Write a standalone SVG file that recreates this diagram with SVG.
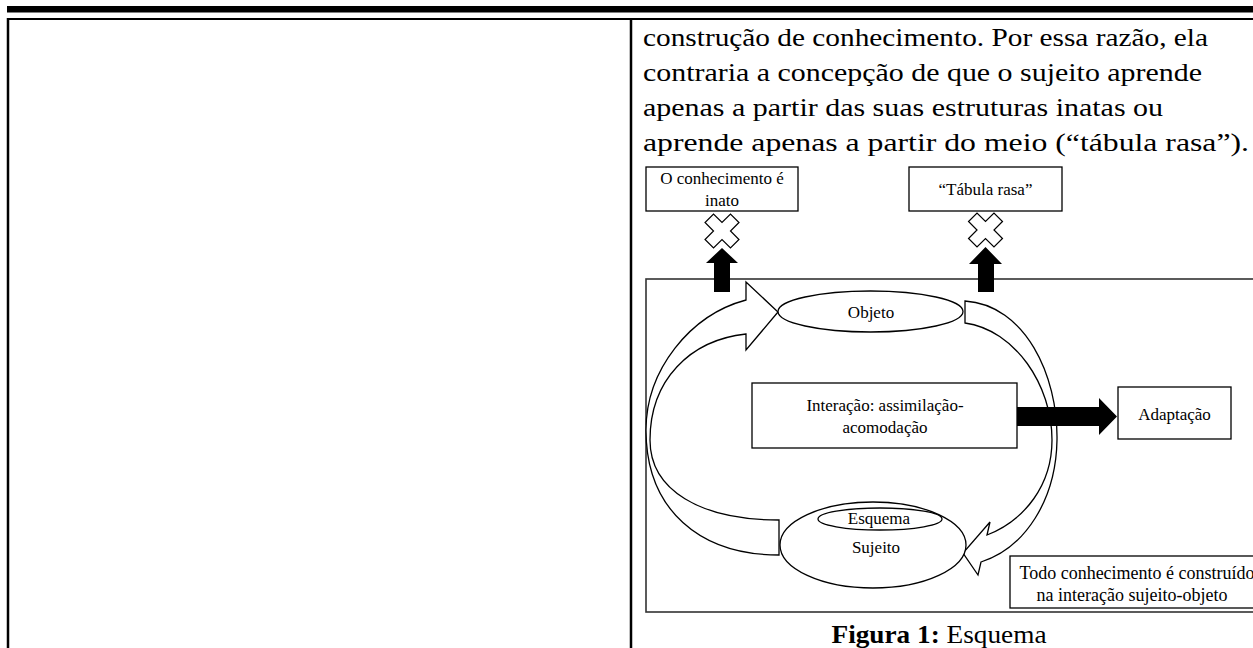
<svg xmlns="http://www.w3.org/2000/svg" width="1253" height="648" viewBox="0 0 1253 648">
<defs>
<style>
.body{font-family:"Liberation Serif","Times New Roman",serif;font-size:25px;fill:#000}
.cap{font-family:"Liberation Serif","Times New Roman",serif;font-size:25px;fill:#000;text-anchor:middle}
.lbl{font-family:"Liberation Serif","Times New Roman",serif;font-size:17px;fill:#000;text-anchor:middle}
.box{fill:#fff;stroke:#000;stroke-width:1.3}
.hollow{fill:#fff;stroke:#000;stroke-width:1.3;stroke-linejoin:miter}
.solid{fill:#000}
.xmark{fill:#fff;stroke:#000;stroke-width:1.2}
</style>
<polygon id="cross" points="6,-18 6,-6 18,-6 18,6 6,6 6,18 -6,18 -6,6 -18,6 -18,-6 -6,-6 -6,-18"/>
</defs>
<rect width="1253" height="648" fill="#fff"/>
<g id="page">
<rect x="7" y="6" width="1246" height="6.5" fill="#000"/>
<line x1="7" y1="19" x2="1253" y2="19" stroke="#000" stroke-width="2"/>
<line x1="8" y1="18" x2="8" y2="648" stroke="#000" stroke-width="2.5"/>
<line x1="631" y1="19" x2="631" y2="648" stroke="#000" stroke-width="2.5"/>
</g>
<g id="paragraph" class="body">
<text x="643" y="46" textLength="565" lengthAdjust="spacingAndGlyphs">construção de conhecimento. Por essa razão, ela</text>
<text x="643" y="81" textLength="559" lengthAdjust="spacingAndGlyphs">contraria a concepção de que o sujeito aprende</text>
<text x="643" y="116" textLength="520" lengthAdjust="spacingAndGlyphs">apenas a partir das suas estruturas inatas ou</text>
<text x="643" y="151" textLength="606" lengthAdjust="spacingAndGlyphs">aprende apenas a partir do meio (“tábula rasa”).</text>
</g>
<rect id="frame" x="646" y="279" width="620" height="333" fill="none" stroke="#333" stroke-width="1.6"/>
<g id="connectors">
<path id="arrow-sujeito-objeto" class="hollow" d="M779,555 C700,555 646,510 646,430 C646,370 690,315 746,300 L746,282 L778,312 L746,350 L746,334 C690,340 650,380 650,440 C650,490 700,520 779,520 Z"/>
<path id="arrow-objeto-sujeito" class="hollow" d="M965,301 C1025,305 1058,375 1057,440 C1056,500 1025,548 981,562 L978,575 L963,553 L990,522 L987,535 C1025,520 1052,485 1052,440 C1052,385 1015,330 965,323 Z"/>
<polygon id="arrow-inato" class="solid" points="714,292 714,263 706,263 722,248 738,263 730,263 730,292"/>
<polygon id="arrow-tabula" class="solid" points="978,292 978,264 969,264 985.5,247 1002,264 994,264 994,292"/>
<polygon id="arrow-adaptacao" class="solid" points="1017,407 1099,407 1099,398 1117,416.5 1099,435 1099,426 1017,426"/>
</g>
<g id="node-inato">
<rect class="box" x="646" y="167" width="152" height="44"/>
<text class="lbl" x="722" y="184">O conhecimento é</text>
<text class="lbl" x="722" y="206">inato</text>
</g>
<g id="node-tabula">
<rect class="box" x="909" y="167" width="153" height="44"/>
<text class="lbl" x="985.5" y="195">“Tábula rasa”</text>
</g>
<g id="x-inato"><use href="#cross" class="xmark" transform="translate(722,231) rotate(45)"/></g>
<g id="x-tabula"><use href="#cross" class="xmark" transform="translate(985.5,230) rotate(45)"/></g>
<g id="node-objeto">
<ellipse class="box" cx="870.5" cy="311.5" rx="92.5" ry="20.5"/>
<text class="lbl" x="871" y="318">Objeto</text>
</g>
<g id="node-interacao">
<rect class="box" x="752" y="383" width="265" height="65"/>
<text class="lbl" x="885" y="411">Interação: assimilação-</text>
<text class="lbl" x="885" y="433">acomodação</text>
</g>
<g id="node-adaptacao">
<rect class="box" x="1118" y="387" width="113" height="52"/>
<text class="lbl" x="1174.5" y="420">Adaptação</text>
</g>
<g id="node-sujeito">
<ellipse class="box" cx="873" cy="545" rx="93" ry="43"/>
<ellipse class="box" cx="880" cy="519" rx="62" ry="11"/>
<text class="lbl" x="879" y="524">Esquema</text>
<text class="lbl" x="876" y="553">Sujeito</text>
</g>
<g id="node-todo">
<rect class="box" x="1010" y="556" width="260" height="52"/>
<text class="lbl" x="1137" y="579" style="font-size:18px">Todo conhecimento é construído</text>
<text class="lbl" x="1132" y="601" style="font-size:18px">na interação sujeito-objeto</text>
</g>
<g id="caption">
<text class="cap" x="939" y="643" textLength="215" lengthAdjust="spacingAndGlyphs"><tspan font-weight="bold">Figura 1:</tspan> Esquema</text>
</g>
</svg>
